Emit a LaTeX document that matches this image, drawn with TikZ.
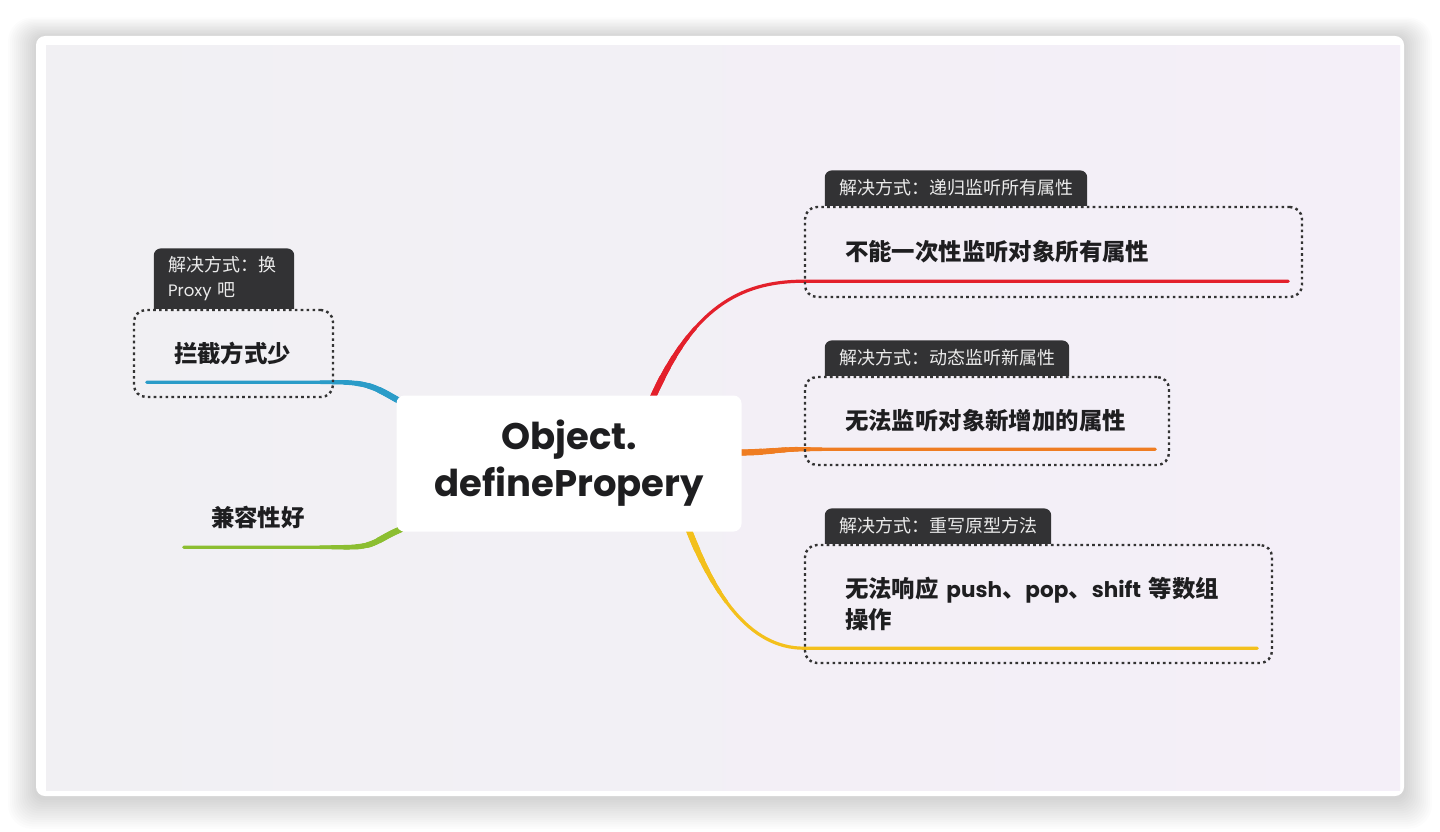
\documentclass[tikz,border=0pt]{standalone}
\usepackage{fontspec}
\usepackage{tikz}
\usetikzlibrary{positioning,calc}
\newfontfamily\cjk{Noto Sans CJK SC}
\newfontfamily\pop{Poppins}
\newfontfamily\popin{Poppins}[Scale=0.92]
\newcommand{\en}[1]{{\popin #1}}
\definecolor{canvas}{HTML}{F1F0F3}
\definecolor{canvaslav}{HTML}{F4EFF8}
\definecolor{tagbg}{HTML}{323234}
\definecolor{ink}{HTML}{1E1E20}
\definecolor{brRed}{HTML}{E3202B}
\definecolor{brBlue}{HTML}{2B9CC8}
\definecolor{brOrange}{HTML}{EF7D22}
\definecolor{brYellow}{HTML}{F3C01C}
\definecolor{brGreen}{HTML}{8CBE31}
\pgfdeclarelayer{back}
\pgfdeclarelayer{under}
\pgfsetlayers{back,under,main}
\tikzset{
  rootbox/.style={fill=white, rounded corners=8pt, minimum width=345pt,
    minimum height=136pt, align=center, text=ink,
    font=\pop\bfseries\fontsize{37}{47}\selectfont},
  topicbox/.style={draw=black!80, line width=2.4pt, dash pattern=on 2.6pt off 3.3pt,
    rounded corners=12pt, inner xsep=40pt, inner ysep=0pt, align=left, text=ink,
    font=\cjk\bfseries\fontsize{23.4}{31.5}\selectfont},
  plaintopic/.style={topicbox, draw=none},
  tagbox/.style={inner xsep=14pt, inner ysep=6pt, minimum height=35pt, align=left,
    text=white!92!black, font=\cjk\fontsize{18}{25}\selectfont},
  taper/.style 2 args={preaction={draw=#1, line cap=round, line width=#2,
    dash pattern=on {(7.2pt-#2)*24} off 4000pt}},
  branch/.style={draw=#1, line width=3.2pt, line cap=round,
    taper={#1}{3.7pt}, taper={#1}{4.2pt}, taper={#1}{4.7pt},
    taper={#1}{5.2pt}, taper={#1}{5.7pt}, taper={#1}{6.2pt}}
}
\begin{document}
\begin{tikzpicture}[x=1pt,y=-1pt]
  \useasboundingbox (0,0) rectangle (1440,832);
  \begin{pgfonlayer}{back}
    \fill[white] (0,0) rectangle (1440,832);
    \foreach \s in {1,...,14}
      \fill[black, opacity=0.012, rounded corners={10pt+\s*1pt}]
        (36-2*\s,37-1.4*\s) rectangle (1404+2*\s,798+2.2*\s);
    \fill[white, rounded corners=9pt] (36,36) rectangle (1404,796);
    \shade[left color=canvas, right color=canvaslav] (46,46) rectangle (1400,790);
  \end{pgfonlayer}

  \node[rootbox] (root) at (569,463.5) {Object.\\definePropery};

  \node[topicbox, text width=417pt, minimum height=90pt] (redtopic) at (1053.5,252)
    {不能一次性监听对象所有属性};
  \node[topicbox, text width=284pt, minimum height=88pt] (orangetopic) at (987,421)
    {无法监听对象新增加的属性};
  \node[topicbox, text width=387pt, minimum height=118pt] (yellowtopic) at (1038.5,604)
    {无法响应 \en{push}、\en{pop}、\en{shift}~等数组\\操作};
  \node[topicbox, text width=119pt, minimum height=87pt] (bluetopic) at (233.5,353.5)
    {拦截方式少};
  \node[plaintopic, text width=94pt, minimum height=90pt] (greentopic) at (258,517)
    {兼容性好};

  \node[tagbox, above right=0pt and 21pt of redtopic.north west] (redtag)
    {解决方式：递归监听所有属性};
  \node[tagbox, above right=0pt and 21pt of orangetopic.north west] (orangetag)
    {解决方式：动态监听新属性};
  \node[tagbox, above right=0pt and 21pt of yellowtopic.north west] (yellowtag)
    {解决方式：重写原型方法};
  \node[tagbox, text width=112pt, minimum height=60pt,
    above right=0pt and 21pt of bluetopic.north west] (bluetag)
    {解决方式：换\\\en{Proxy} 吧};

  \coordinate (redL) at ([yshift=17pt]redtopic.south west);
  \coordinate (redR) at ([xshift=-15pt,yshift=17pt]redtopic.south east);
  \coordinate (orangeL) at ([yshift=17pt]orangetopic.south west);
  \coordinate (orangeR) at ([xshift=-15pt,yshift=17pt]orangetopic.south east);
  \coordinate (yellowL) at ([yshift=16pt]yellowtopic.south west);
  \coordinate (yellowR) at ([xshift=-16pt,yshift=16pt]yellowtopic.south east);
  \coordinate (blueL) at ([xshift=14pt,yshift=16pt]bluetopic.south west);
  \coordinate (blueR) at ([yshift=16pt]bluetopic.south east);
  \coordinate (greenL) at ([xshift=14pt,yshift=16pt]greentopic.south west);
  \coordinate (greenR) at ([yshift=16pt]greentopic.south east);

  \begin{pgfonlayer}{under}
    \foreach \t in {redtag,orangetag,yellowtag,bluetag}
      \fill[tagbg, rounded corners=7pt]
        (\t.south west) -- (\t.north west) -- (\t.north east) -- (\t.south east);
    \draw[branch=brRed] ([xshift=83pt,yshift=-4pt]root.north)
      .. controls +(40,-90) and +(-65,0) .. (redL) -- (redR);
    \draw[branch=brOrange] ([xshift=-4pt,yshift=11pt]root.east)
      .. controls +(30,0) and +(-25,0) .. (orangeL) -- (orangeR);
    \draw[branch=brYellow] ([xshift=119pt,yshift=4pt]root.south)
      .. controls +(25,65) and +(-55,0) .. (yellowL) -- (yellowR);
    \draw[branch=brBlue] ([xshift=4pt,yshift=62pt]root.west)
      .. controls +(-25,-14) and +(35,0) .. (blueR) -- (blueL);
    \draw[branch=brGreen] ([xshift=4pt,yshift=-66pt]root.west)
      .. controls +(-24,10) and +(30,0) .. (greenR) -- (greenL);
  \end{pgfonlayer}
\end{tikzpicture}
\end{document}
